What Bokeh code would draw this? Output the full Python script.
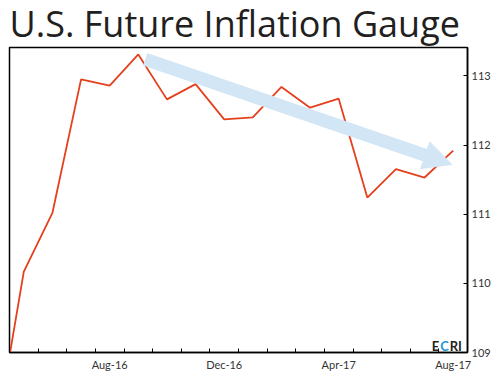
from bokeh.plotting import figure
from bokeh.models import FixedTicker, Range1d, Arrow, NormalHead, Label
from bokeh.embed import file_html
from bokeh.resources import INLINE

months = ["Apr-16", "May-16", "Jun-16", "Jul-16", "Aug-16", "Sep-16", "Oct-16", "Nov-16",
          "Dec-16", "Jan-17", "Feb-17", "Mar-17", "Apr-17", "May-17", "Jun-17", "Jul-17", "Aug-17"]
gauge = [107.73, 110.17, 111.02, 112.95, 112.86, 113.31, 112.66, 112.88,
         112.37, 112.40, 112.84, 112.54, 112.67, 111.24, 111.65, 111.53, 111.92]
tick_labels = ["Aug-16", "Dec-16", "Apr-17", "Aug-17"]
y_ticks = [109, 110, 111, 112, 113]
title_text = "U.S. Future Inflation Gauge"

# trend arrow (annotation) start/end in data units
arrow_start = (5.24, 113.24)
arrow_end = (15.95, 111.72)

xs = list(range(len(months)))
FONT = "Lato"
X0, X1 = 0.5, len(months) - 0.5
Y0, Y1 = 109, 113.41

p = figure(frame_width=458, frame_height=305, output_backend="svg", toolbar_location=None,
           x_range=Range1d(X0, X1), y_range=Range1d(Y0, Y1),
           y_axis_location="right", min_border_left=9, min_border_top=0, min_border_bottom=0,
           min_border_right=0)
p.styles = {"margin-top": "-4px"}

p.title.text = title_text
p.title.text_font = "Open Sans"
p.title.text_font_size = "36px"
p.title.text_font_style = "normal"
p.title.text_color = "#231f20"
p.title.offset = 0
p.title.standoff = 0

p.outline_line_color = "black"
p.outline_line_width = 1.5
p.outline_line_alpha = 1
p.xgrid.visible = False
p.ygrid.visible = False
p.background_fill_color = "white"
p.border_fill_color = "white"

# x axis
xa = p.xaxis[0]
major = [months.index(m) for m in tick_labels]
minor = [i + 0.5 for i in range(-1, len(months))]
xa.ticker = FixedTicker(ticks=major, minor_ticks=minor)
xa.major_label_overrides = {m: lab for m, lab in zip(major, tick_labels)}
xa.major_tick_in = 0
xa.major_tick_out = 0
xa.minor_tick_in = 4
xa.minor_tick_out = 0
xa.minor_tick_line_color = "black"
xa.axis_line_color = "black"
xa.axis_line_width = 1.5
xa.major_label_standoff = 5
xa.major_label_text_font = FONT
xa.major_label_text_font_size = "11px"
xa.major_label_text_color = "#333333"

# y axis
ya = p.yaxis[0]
ya.ticker = FixedTicker(ticks=y_ticks)
ya.major_tick_in = 4
ya.major_tick_out = 0
ya.minor_tick_in = 0
ya.minor_tick_out = 0
ya.axis_line_color = "black"
ya.axis_line_width = 1.5
ya.major_label_standoff = 4
ya.major_label_text_font = FONT
ya.major_label_text_font_size = "11px"
ya.major_label_text_color = "#333333"

# trend arrow
arrow = Arrow(x_start=arrow_start[0], y_start=arrow_start[1], x_end=arrow_end[0], y_end=arrow_end[1],
              line_color="#d2e6f5", line_width=13, line_cap="butt",
              end=NormalHead(size=28, fill_color="#d2e6f5", line_color="#d2e6f5", line_width=1))
p.add_layout(arrow)

p.line(xs, gauge, line_color="#e5401d", line_width=1.8)

# ECRI logo
logo_x, logo_y = 15.25, 109.10
for txt, off, col in [("E", 0, "#231f20"), ("C", 8.6, "#1b95d4"), ("RI", 18.0, "#231f20")]:
    p.add_layout(Label(x=logo_x, y=logo_y, x_offset=off, text=txt, text_font=FONT,
                       text_font_size="13px", text_font_style="bold", text_color=col,
                       text_align="left", text_baseline="alphabetic"))

open("out.html", "w").write(file_html(p, INLINE))
